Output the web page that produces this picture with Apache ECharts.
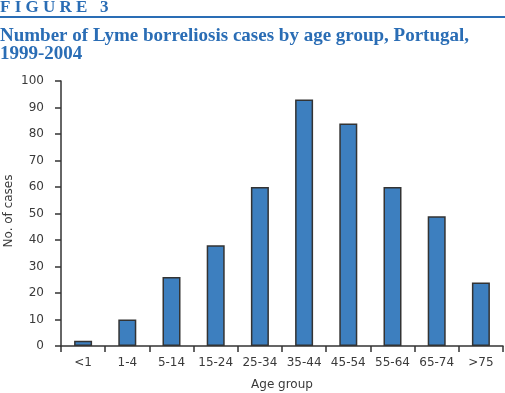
<!DOCTYPE html>
<html><head><meta charset="utf-8">
<script src="https://cdn.jsdelivr.net/npm/echarts@6/dist/echarts.min.js"></script>
<style>html,body{margin:0;padding:0;background:#fff}#c{width:505px;height:393px}</style>
</head><body><div id="c"></div>
<script>
const categories = ['<1','1-4','5-14','15-24','25-34','35-44','45-54','55-64','65-74','>75'];
const cases = [2,10,26,38,60,93,84,60,49,24];
const yTicks = {min:0,max:100,interval:10};
const yTitle = 'No. of cases';

const chart = echarts.init(document.getElementById('c'));
const blue = '#2a6db5';
const lab = {fontFamily:'DejaVu Sans',fontSize:12,color:'#3a3a3a'};
chart.setOption({
  animation:false,
  backgroundColor:'#fff',
  graphic:[
    {type:'text',left:0,top:-1,style:{text:'F I G U R E   3',font:'bold 17px "Liberation Serif"',fill:blue}},
    {type:'rect',shape:{x:0,y:16,width:505,height:2},style:{fill:blue}},
    {type:'text',left:0,top:27,style:{text:'Number of Lyme borreliosis cases by age group, Portugal,\n1999-2004',font:'bold 19px "Liberation Serif"',fill:blue,lineHeight:18}},
    {type:'text',x:9,y:211,rotation:Math.PI/2,style:{text:yTitle,font:'12px "DejaVu Sans"',fill:'#3a3a3a',align:'center',verticalAlign:'middle'}}
  ],
  grid:{left:61,right:2,top:81,bottom:47,outerBoundsMode:'none',containLabel:false},
  xAxis:{type:'category',data:categories,
    name:'Age group',nameLocation:'middle',nameGap:33,
    nameTextStyle:lab,
    axisLine:{lineStyle:{color:'#333',width:1.5}},
    axisTick:{show:true,length:6,lineStyle:{color:'#333',width:1.5}},
    axisLabel:Object.assign({margin:11,interval:0,hideOverlap:false},lab)},
  yAxis:{type:'value',min:yTicks.min,max:yTicks.max,interval:yTicks.interval,
    splitLine:{show:false},
    axisLine:{show:true,lineStyle:{color:'#333',width:1.5}},
    axisTick:{show:true,length:6,lineStyle:{color:'#333',width:1.5}},
    axisLabel:Object.assign({margin:17},lab)},
  series:[{type:'bar',data:cases,barWidth:18,
    itemStyle:{color:'#3d7fbf',borderColor:'#333',borderWidth:1.5}}]
});
</script></body></html>
